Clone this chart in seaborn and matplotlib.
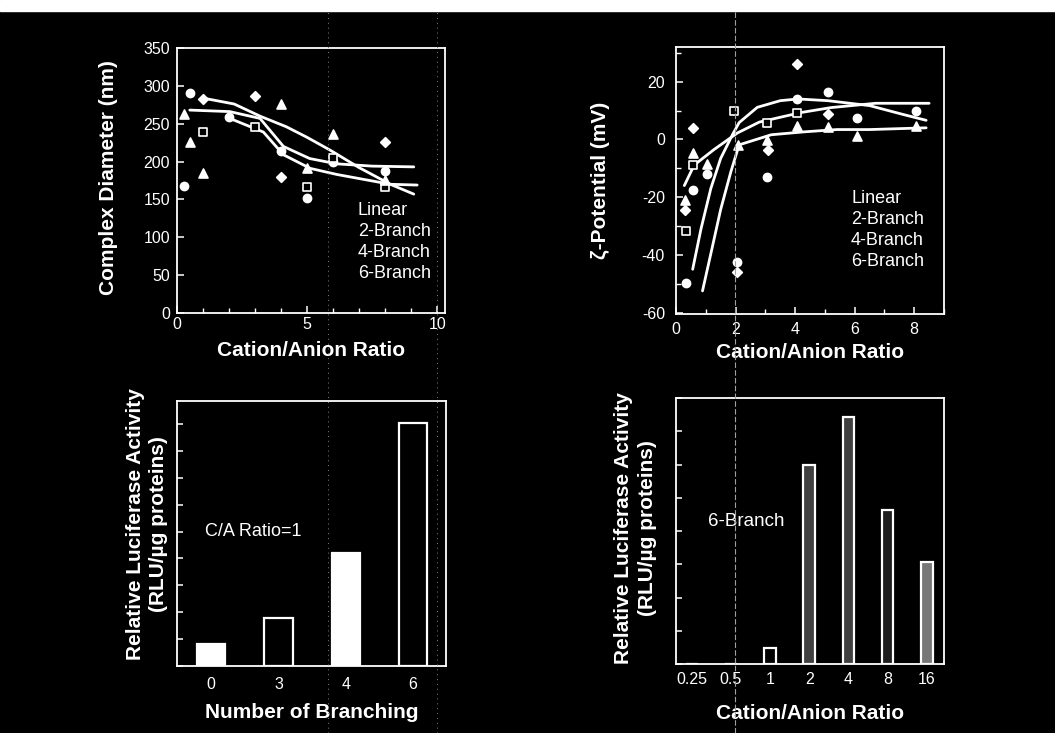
import numpy as np
import pandas as pd
import seaborn as sns
import matplotlib.pyplot as plt
from matplotlib.lines import Line2D
from matplotlib.patches import Rectangle
from matplotlib.ticker import MultipleLocator

# === dados: diametro do complexo (nm) ===
series = ["Linear", "2-Branch", "4-Branch", "6-Branch"]

diam_lin_x = [0.25, 0.5, 2, 4, 5, 6, 8]
diam_lin_y = [168, 291, 259, 214, 152, 200, 187]
diam_b2_x = [1, 3, 5, 6, 8]
diam_b2_y = [239, 245, 166, 205, 167]
diam_b4_x = [0.25, 0.5, 1, 4, 5, 6, 8]
diam_b4_y = [263, 226, 185, 276, 191, 237, 175]
diam_b6_x = [1, 3, 4, 8]
diam_b6_y = [283, 286, 180, 226]

# curvas ajustadas
diam_fit1_x = [1.13, 2.2, 3.19, 4.2, 5.0, 5.89, 7.0, 8.2, 9.1]
diam_fit1_y = [283, 276, 260, 246, 232, 215, 192, 170, 157]
diam_fit2_x = [0.49, 2.03, 3.19, 4.09, 5.1, 6.14, 7.5, 9.1]
diam_fit2_y = [268, 266, 257, 220, 204, 197, 194, 193]
diam_fit3_x = [2.03, 3.32, 4.09, 5.12, 6.14, 8.2, 9.23]
diam_fit3_y = [257, 239, 209, 191, 183, 170, 169]

# === dados: potencial zeta (mV) ===
zeta_lin_x = [0.33, 0.58, 1.04, 2.06, 3.06, 4.08, 5.09, 6.08, 8.06]
zeta_lin_y = [-49.6, -17.4, -12.1, -42.5, -13, 14, 16.4, 7.3, 9.7]
zeta_b2_x = [0.33, 0.56, 1.95, 3.06, 4.08]
zeta_b2_y = [-31.6, -8.9, 9.9, 5.8, 9.1]
zeta_b4_x = [0.31, 0.56, 1.04, 2.08, 3.06, 4.08, 5.1, 6.08, 8.06]
zeta_b4_y = [-21, -4.8, -8.7, -2.1, -0.1, 4.6, 4.2, 1.3, 4.6]
zeta_b6_x = [0.31, 0.58, 2.06, 3.08, 4.08, 5.09]
zeta_b6_y = [-24.6, 3.8, -46, -3.6, 26.1, 8.7]

zeta_fit1_x = [0.56, 0.84, 1.17, 1.5, 1.9, 2.12, 2.73, 3.5, 4.1, 5.1, 6.5, 7.6, 8.4]
zeta_fit1_y = [-45, -31, -17, -6.6, 1.7, 5.8, 11.1, 13.4, 14, 13.4, 11.7, 8.7, 6.6]
zeta_fit2_x = [0.89, 1.17, 1.5, 1.84, 2.12, 3.2, 4.3, 5.4, 6.5, 8.4]
zeta_fit2_y = [-52.5, -39.6, -24.3, -11.3, -1.9, 1.6, 2.6, 3.4, 3.4, 4.0]
zeta_fit3_x = [0.28, 0.61, 1.28, 2.06, 2.8, 4.2, 5.2, 6.7, 8.5]
zeta_fit3_y = [-16, -8.9, -3.5, 2.2, 6, 9.3, 11, 12.5, 12.5]

# === dados: atividade de luciferase ===
branch_labels = ["0", "3", "4", "6"]
branch_activity = [0.82, 1.77, 4.19, 9.04]
ratio_labels = ["0.25", "0.5", "1", "2", "4", "8", "16"]
ratio_activity = [0, 0, 0.47, 5.98, 7.43, 4.62, 3.07]

# === estilo ===
sns.set_theme(style="ticks")
plt.rcParams["font.family"] = ["Liberation Sans", "DejaVu Sans"]
plt.rcParams.update({
    "text.color": "white",
    "axes.labelcolor": "white",
    "xtick.color": "white",
    "ytick.color": "white",
    "axes.edgecolor": "white",
    "axes.facecolor": "black",
    "figure.facecolor": "black",
    "savefig.facecolor": "black",
    "xtick.direction": "in",
    "ytick.direction": "in",
    "axes.unicode_minus": False,
})

W, H = 1055, 733
fig = plt.figure(figsize=(W / 100, H / 100), dpi=100)


def box(l, t, r, b):
    return [l / W, 1 - b / H, (r - l) / W, (b - t) / H]


ax1 = fig.add_axes(box(177, 48, 445, 313))
ax2 = fig.add_axes(box(676, 47, 944, 314))
ax3 = fig.add_axes(box(177, 401, 446, 666))
ax4 = fig.add_axes(box(676, 398, 944, 664))

for ax in (ax1, ax2, ax3, ax4):
    for s in ax.spines.values():
        s.set_color("white")
        s.set_linewidth(1.3)
    ax.tick_params(which="both", direction="in", colors="white", labelsize=11.5,
                   top=False, right=False)
    ax.tick_params(which="major", length=5, width=1.1)
    ax.tick_params(which="minor", length=3.5, width=1.0)

lab_kw = dict(fontsize=15, fontweight="bold", color="white")
mk = {"Linear": ("o", "white", 34), "2-Branch": ("s", "black", 36),
      "4-Branch": ("^", "white", 42), "6-Branch": ("D", "white", 24)}


def pontos(ax, xs, ys, nome):
    m, fc, s = mk[nome]
    sns.scatterplot(x=xs, y=ys, marker=m, color=fc, edgecolor="white",
                    linewidth=1.2, s=s, ax=ax, zorder=4)


def curva(ax, xs, ys):
    sns.lineplot(x=xs, y=ys, sort=False, estimator=None, color="white",
                 linewidth=2.0, ax=ax, zorder=3)


def legenda(ax, x0, y0):
    hs = [Line2D([], [], linestyle="none") for _ in series]
    leg = ax.legend(hs, series, loc="upper left", bbox_to_anchor=(x0, y0),
                    frameon=False, handlelength=0, handletextpad=0,
                    labelspacing=0.22, fontsize=13, borderaxespad=0,
                    borderpad=0, labelcolor="white")
    return leg


# --- painel 1: diametro ---
for xs, ys in [(diam_fit1_x, diam_fit1_y), (diam_fit2_x, diam_fit2_y),
               (diam_fit3_x, diam_fit3_y)]:
    curva(ax1, xs, ys)
pontos(ax1, diam_lin_x, diam_lin_y, "Linear")
pontos(ax1, diam_b2_x, diam_b2_y, "2-Branch")
pontos(ax1, diam_b4_x, diam_b4_y, "4-Branch")
pontos(ax1, diam_b6_x, diam_b6_y, "6-Branch")
ax1.set_xlim(0, 10.3)
ax1.set_ylim(0, 350)
ax1.xaxis.set_major_locator(MultipleLocator(5))
ax1.xaxis.set_minor_locator(MultipleLocator(1))
ax1.yaxis.set_major_locator(MultipleLocator(50))
ax1.tick_params(axis="x", pad=3)
ax1.tick_params(axis="y", pad=5)
ax1.set_xlabel("Cation/Anion Ratio", **lab_kw)
ax1.set_ylabel("Complex Diameter (nm)", **lab_kw)
ax1.xaxis.set_label_coords(0.5, -0.105)
ax1.yaxis.set_label_coords(-0.222, 0.51)
legenda(ax1, 0.675, 0.42)

# --- painel 2: potencial zeta ---
for xs, ys in [(zeta_fit1_x, zeta_fit1_y), (zeta_fit2_x, zeta_fit2_y),
               (zeta_fit3_x, zeta_fit3_y)]:
    curva(ax2, xs, ys)
pontos(ax2, zeta_lin_x, zeta_lin_y, "Linear")
pontos(ax2, zeta_b2_x, zeta_b2_y, "2-Branch")
pontos(ax2, zeta_b4_x, zeta_b4_y, "4-Branch")
pontos(ax2, zeta_b6_x, zeta_b6_y, "6-Branch")
ax2.set_xlim(0, 9)
ax2.set_ylim(-60.5, 32)
ax2.xaxis.set_major_locator(MultipleLocator(2))
ax2.xaxis.set_minor_locator(MultipleLocator(1))
ax2.yaxis.set_major_locator(MultipleLocator(20))
ax2.yaxis.set_minor_locator(MultipleLocator(10))
ax2.tick_params(axis="x", pad=6)
ax2.tick_params(axis="y", pad=8)
ax2.set_xlabel("Cation/Anion Ratio", **lab_kw)
ax2.set_ylabel("ζ-Potential (mV)", **lab_kw)
ax2.xaxis.set_label_coords(0.5, -0.11)
ax2.yaxis.set_label_coords(-0.246, 0.5)
legenda(ax2, 0.653, 0.465)

# --- painel 3: atividade x ramificacao ---
sns.barplot(x=branch_labels, y=branch_activity, hue=branch_labels,
            palette={"0": "white", "3": "black", "4": "white", "6": "black"},
            width=0.42, edgecolor="white", linewidth=1.6, saturation=1,
            legend=False, ax=ax3)
ax3.set_xlim(-0.51, 3.49)
ax3.set_ylim(0, 9.86)
ax3.yaxis.set_major_locator(MultipleLocator(1))
ax3.tick_params(axis="y", labelleft=False, length=4)
ax3.tick_params(axis="x", length=0, pad=8)
ax3.set_xlabel("Number of Branching", **lab_kw)
ax3.set_ylabel("Relative Luciferase Activity\n(RLU/µg proteins)",
               linespacing=1.3, **lab_kw)
ax3.xaxis.set_label_coords(0.5, -0.14)
ax3.yaxis.set_label_coords(-0.033, 0.534)
ax3.text(0.104, 0.507, "C/A Ratio=1", transform=ax3.transAxes,
         fontsize=13, color="white", va="center")

# --- painel 4: atividade x razao C/A (6-Branch) ---
sns.barplot(x=ratio_labels, y=ratio_activity, hue=ratio_labels,
            palette={"0.25": "black", "0.5": "black", "1": "black",
                     "2": "#404040", "4": "#404040", "8": "#1e1e1e",
                     "16": "#777777"},
            width=0.3, edgecolor="white", linewidth=1.6, saturation=1,
            legend=False, ax=ax4)
ax4.set_xlim(-0.4, 6.44)
ax4.set_ylim(0, 8)
ax4.yaxis.set_major_locator(MultipleLocator(1))
ax4.tick_params(axis="y", labelleft=False, length=4)
ax4.tick_params(axis="x", length=0, pad=6)
ax4.set_xlabel("Cation/Anion Ratio", **lab_kw)
ax4.set_ylabel("Relative Luciferase Activity\n(RLU/µg proteins)",
               linespacing=1.3, **lab_kw)
ax4.xaxis.set_label_coords(0.5, -0.15)
ax4.yaxis.set_label_coords(-0.071, 0.51)
ax4.text(0.119, 0.535, "6-Branch", transform=ax4.transAxes,
         fontsize=13.5, color="white", va="center")

# borda branca do scan e dobras verticais
fig.add_artist(Rectangle((0, 1 - 11 / H), 1, 11 / H, transform=fig.transFigure,
                         color="white", zorder=0))
fig.add_artist(Line2D([735 / W] * 2, [0, 1 - 11 / H], transform=fig.transFigure,
                      color="#a0a0a0", lw=0.8, ls=(0, (5, 2))))
for xp in (328, 437):
    fig.add_artist(Line2D([xp / W] * 2, [0, 1 - 11 / H], transform=fig.transFigure,
                          color="#808080", lw=0.7, ls=(0, (1, 4))))

fig.savefig("out.png", dpi=100)
